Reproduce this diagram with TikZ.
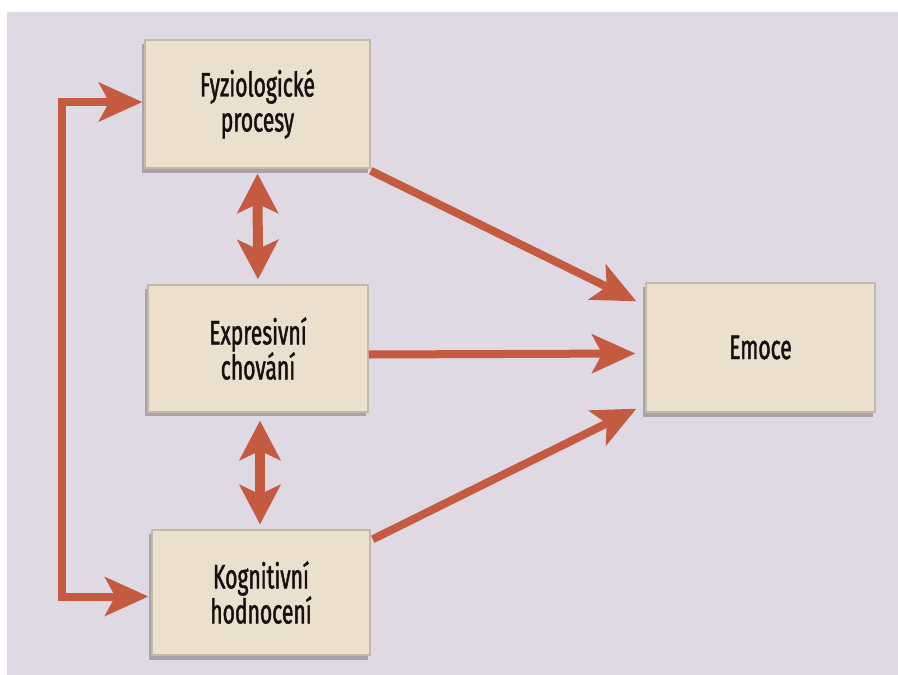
\documentclass[tikz,border=0pt]{standalone}
\usepackage{fontspec}
\newfontfamily\lbl[FakeStretch=0.62,FakeBold=1.3]{Fira Sans}
\usetikzlibrary{arrows.meta,calc,positioning}
\definecolor{bgc}{RGB}{222,217,227}
\definecolor{boxc}{RGB}{234,224,205}
\definecolor{boxd}{RGB}{196,184,166}
\definecolor{arrc}{RGB}{196,90,64}
\definecolor{txtc}{RGB}{24,16,16}
\tikzset{
  box/.style={rectangle, fill=boxc, draw=boxd, line width=1.5pt, align=center,
    text=txtc, font=\lbl\fontsize{34}{35}\selectfont, inner sep=0pt},
  shadowbox/.style={fill=black!55!boxd, opacity=0.4},
  tipA/.tip={Stealth[length=44pt,width=40pt,inset=11pt,fill=arrc,line width=0pt]},
  tipB/.tip={Stealth[length=40pt,width=42pt,inset=10pt,fill=arrc,line width=0pt]},
  conn/.style={draw=arrc, line width=8pt, line join=miter, -tipA},
  dconn/.style={draw=arrc, line width=10pt, tipB-tipB},
  loopconn/.style={draw=arrc, line width=8pt, line join=miter, tipA-tipA}
}
\begin{document}
\begin{tikzpicture}[x=1pt,y=-1pt]
\fill[white] (0,0) rectangle (898,675);
\fill[bgc] (7,12) rectangle (898,675);
\useasboundingbox (0,0) rectangle (898,675);
% shadows
\fill[shadowbox] (142,44) rectangle (368,173);
\fill[shadowbox] (145,289) rectangle (366,416);
\fill[shadowbox] (149,534) rectangle (368,660);
\fill[shadowbox] (643,287) rectangle (873,417);
% boxes
\node[box, minimum width=225pt, minimum height=128pt] (b1) at (257.5,104) {Fyziologické\\procesy};
\node[box, minimum width=220pt, minimum height=127pt] (b2) at (258,348.5) {Expresivní\\chování};
\node[box, minimum width=218pt, minimum height=125pt] (b3) at (261,592.5) {Kognitivní\\hodnocení};
\node[box, minimum width=229pt, minimum height=129pt] (b4) at (760.5,347.5) {Emoce};
\coordinate (cL) at (62,0);
% connectors
\draw[conn] ($(b1.south east)+(0,2)$) -- ($(b4.north west)+(-9,19)$);
\draw[conn] ([yshift=-6pt]b2.east) -- ([xshift=-10pt,yshift=-6pt]b4.west);
\draw[conn] ($(b3.north east)+(2,10)$) -- ($(b4.south west)+(-9,-4)$);
\draw[dconn] ([yshift=-5pt]b1.south) -- ([yshift=5pt]b2.north);
\draw[dconn] ([xshift=2pt,yshift=-8pt]b2.south) -- ([xshift=-1pt,yshift=5pt]b3.north);
\draw[loopconn]
  ([xshift=-2pt,yshift=2pt]b1.west) -- ([yshift=2pt]b1.west -| cL) -- ([yshift=-4pt]b3.west -| cL) -- ([xshift=-3pt,yshift=-4pt]b3.west);
\end{tikzpicture}
\end{document}
